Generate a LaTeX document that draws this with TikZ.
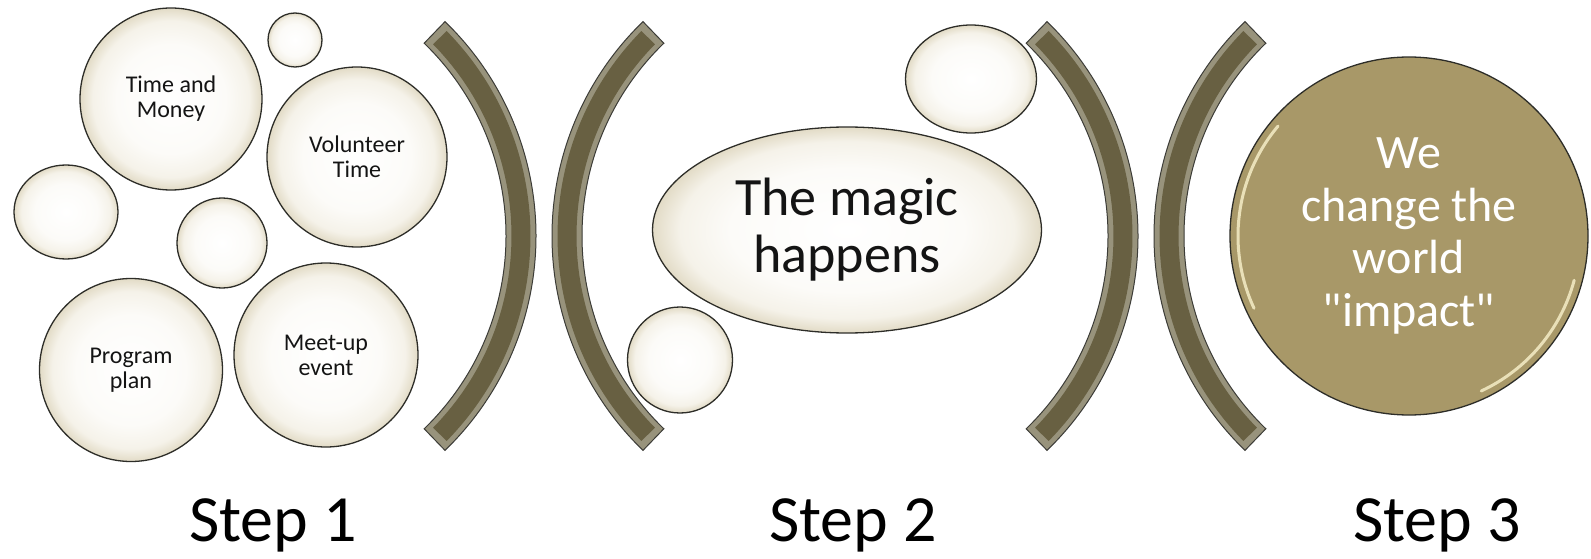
\documentclass[tikz,border=0pt]{standalone}
\usepackage{fontspec}
\setmainfont{Carlito}
\newfontfamily\plainquotes{Carlito}[Ligatures=TeXOff]
\usetikzlibrary{shapes.geometric}
\definecolor{bubA}{RGB}{252,251,248}
\definecolor{bubB}{RGB}{245,242,233}
\definecolor{bubC}{RGB}{226,219,198}
\definecolor{bubline}{RGB}{45,45,40}
\definecolor{textc}{RGB}{20,20,20}
\definecolor{bandfill}{RGB}{152,147,124}
\definecolor{bandcore}{RGB}{104,96,66}
\definecolor{bandline}{RGB}{60,60,55}
\definecolor{tanc}{RGB}{168,152,104}
\definecolor{tanhl}{RGB}{250,242,205}
\pgfdeclareradialshading{bubble}{\pgfpoint{0bp}{0bp}}{color(0bp)=(white); color(15bp)=(bubA); color(21.5bp)=(bubB); color(25bp)=(bubC); color(50bp)=(bubC)}
\newcommand{\mkband}[5]{%
  \filldraw[fill=bandfill, draw=bandline, line width=1pt]
    ([shift={(#2:298pt)}]#1pt,322pt) arc[start angle=#2, end angle=#3, radius=298pt]
    -- ([shift={(#3:268pt)}]#1pt,322pt) arc[start angle=#3, end angle=#2, radius=268pt] -- cycle;
  \draw[draw=bandcore, line width=19pt]
    ([shift={(#4:283pt)}]#1pt,322pt) arc[start angle=#4, end angle=#5, radius=283pt];
}
\begin{document}
\begin{tikzpicture}[x=1pt, y=1pt,
  bubble/.style={shade, shading=bubble, draw=bubline, line width=1.3pt, inner sep=0pt, align=center, text=textc},
  smalltxt/.style={font=\fontsize{24}{25}\selectfont},
  impact/.style={circle, fill=tanc, draw=bubline, line width=1.3pt, inner sep=0pt, minimum size=358pt, align=center, text=white, font=\plainquotes\fontsize{48}{52.5}\selectfont},
  steplbl/.style={anchor=base, text=black, font=\fontsize{66}{68}\selectfont},
  hl/.style={draw=tanhl, line width=3pt, line cap=round, opacity=0.8}]
\useasboundingbox (0,0) rectangle (1591,558);

% Step 1 bubbles
\node[bubble, circle, minimum size=182pt, smalltxt] (tm) at (171,459) {Time and\\Money};
\node[bubble, circle, minimum size=54pt] (s1) at (295,518) {};
\node[bubble, circle, minimum size=180pt, smalltxt] (vt) at (357,401) {Volunteer\\Time};
\node[bubble, ellipse, minimum width=104pt, minimum height=94pt] (s2) at (66,346) {};
\node[bubble, circle, minimum size=90pt] (s3) at (222,315) {};
\node[bubble, circle, minimum size=183pt, smalltxt] (pp) at (131,188) {Program\\plan};
\node[bubble, circle, minimum size=184pt, smalltxt] (me) at (326,203) {Meet-up\\event};

% bands
\mkband{238}{46}{-46}{44.5}{-44.5}
\mkband{850}{134}{226}{135.5}{224.5}
\mkband{840}{46}{-46}{44.5}{-44.5}
\mkband{1452}{134}{226}{135.5}{224.5}

% Step 2
\node[bubble, ellipse, minimum width=389pt, minimum height=206pt, font=\fontsize{54}{57}\selectfont] (magic) at (847,328) {The magic\\happens};
\node[bubble, ellipse, minimum width=131pt, minimum height=108pt] (s4) at (971,479) {};
\node[bubble, ellipse, minimum width=105pt, minimum height=106pt] (s5) at (680,198) {};

% Step 3
\node[impact] (world) at (1409,322) {We\\change the\\world\\"impact"};
\draw[hl] ([shift={(140:171pt)}]world.center) arc[start angle=140, end angle=205, radius=171pt];
\draw[hl] ([shift={(295:171pt)}]world.center) arc[start angle=295, end angle=345, radius=171pt];

% labels
\node[steplbl] (st1) at (273,17) {Step 1};
\node[steplbl] (st2) at (853,17) {Step 2};
\node[steplbl] (st3) at (1437,17) {Step 3};
\end{tikzpicture}
\end{document}
